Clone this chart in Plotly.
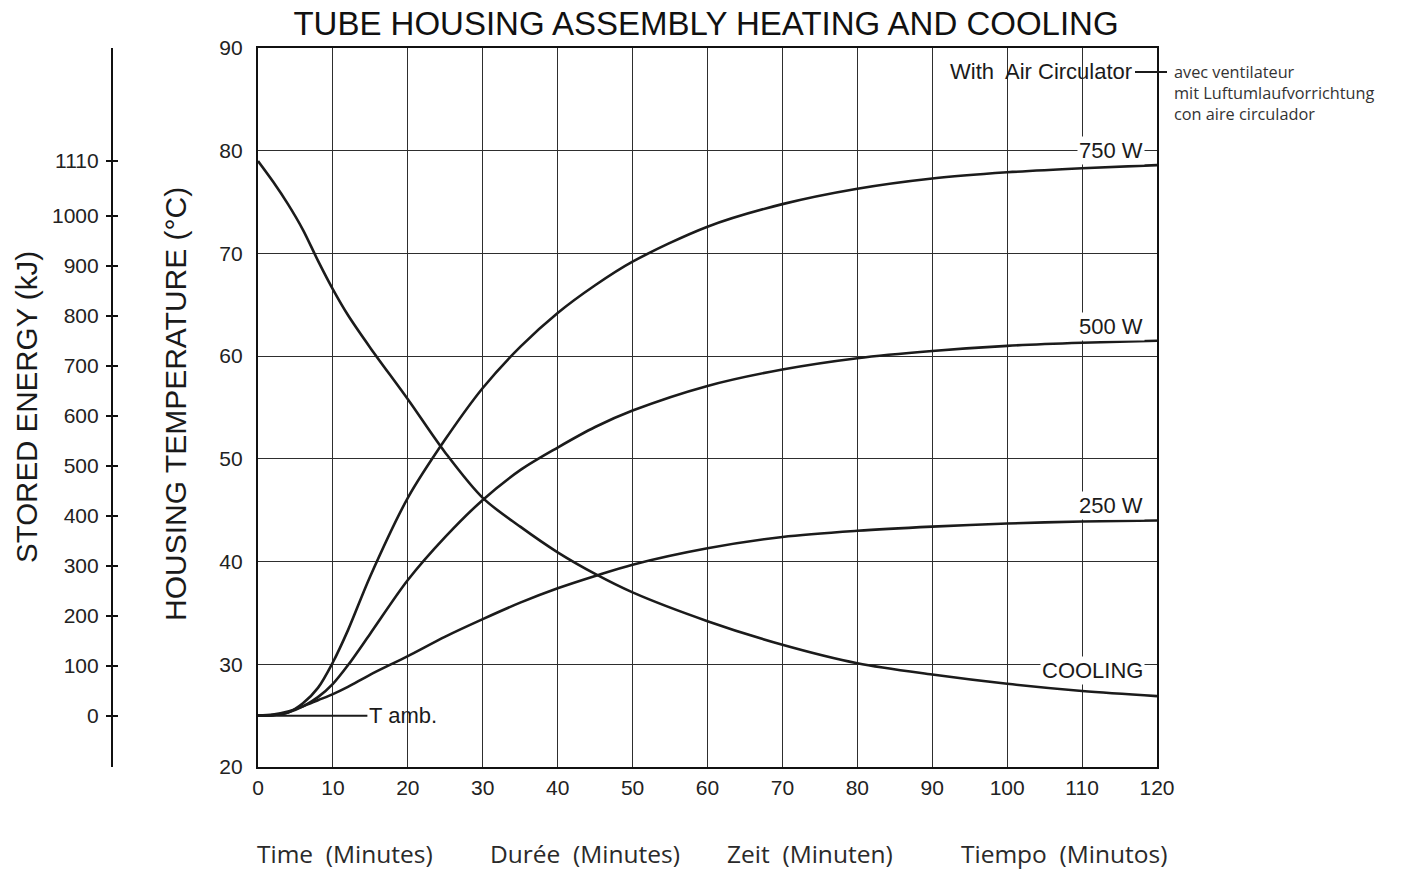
import plotly.graph_objects as go

# ---------------- data ----------------
TIME = [0, 2, 4, 6, 8, 10, 12, 15, 20, 25, 30, 35, 40, 45, 50, 60, 70, 80, 90, 100, 110, 120]
HEAT_750W = [25, 25.05, 25.3, 26.2, 27.7, 30.2, 33.3, 38.6, 46.2, 51.9, 56.9, 60.9, 64.2, 66.9, 69.2,
             72.6, 74.8, 76.3, 77.3, 77.9, 78.3, 78.6]
HEAT_500W = [25, 25.05, 25.3, 25.9, 26.8, 28.1, 29.9, 33.0, 38.2, 42.4, 46.0, 48.9, 51.1, 53.1, 54.7,
             57.1, 58.7, 59.8, 60.5, 61.0, 61.3, 61.5]
HEAT_250W = [25, 25.1, 25.4, 25.9, 26.5, 27.1, 27.8, 29.0, 30.8, 32.7, 34.4, 36.0, 37.4, 38.6, 39.7,
             41.3, 42.4, 43.0, 43.4, 43.7, 43.9, 44.0]
COOLING = [79.0, 77.0, 74.8, 72.3, 69.3, 66.5, 64.0, 60.8, 55.8, 50.6, 46.2, 43.4, 40.9, 38.8, 37.0,
           34.2, 31.9, 30.1, 29.0, 28.1, 27.4, 26.9]
T_AMB_TIME = [0, 14.6]
T_AMB = [25, 25]

ENERGY_TICKS = [0, 100, 200, 300, 400, 500, 600, 700, 800, 900, 1000, 1110]
ENERGY_REF_TEMP = [25, 79]        # temperatures matching 0 kJ and 1110 kJ
ENERGY_REF_KJ = [0, 1110]

TEMP_RANGE = [20, 90]
TIME_RANGE = [0, 120]

CURVE_LABELS = ["750 W", "500 W", "250 W", "COOLING"]
CURVE_LABEL_T = [80.0, 62.9, 45.5, 29.4]

TITLE = "TUBE HOUSING ASSEMBLY HEATING AND COOLING"
AIR_LABEL = "With  Air Circulator"
AIR_TRANSLATIONS = ["avec ventilateur", "mit Luftumlaufvorrichtung", "con aire circulador"]
BOTTOM_LABELS = ["Time  (Minutes)", "Durée  (Minutes)", "Zeit  (Minuten)", "Tiempo  (Minutos)"]

# ---------------- geometry (page pixels; the page body adds an 8px offset) ----------------
OFF = 8
W, H = 1401 - OFF, 869 - OFF
PLOT_L, PLOT_R, PLOT_T, PLOT_B = 258, 1157, 48, 767      # page pixels
ML = 40 - OFF                                             # paper starts at page x = 40
MR = (W + OFF) - PLOT_R
MT = PLOT_T - OFF
MB = (H + OFF) - PLOT_B
PW = W - ML - MR
PH = H - MT - MB
PAPER_L = ML + OFF


def px_x(p):
    return (p - PAPER_L) / PW


def px_y(p):
    return (PLOT_B - p) / PH


slope = (ENERGY_REF_KJ[1] - ENERGY_REF_KJ[0]) / (ENERGY_REF_TEMP[1] - ENERGY_REF_TEMP[0])
E_RANGE = [ENERGY_REF_KJ[0] + (TEMP_RANGE[0] - ENERGY_REF_TEMP[0]) * slope,
           ENERGY_REF_KJ[0] + (TEMP_RANGE[1] - ENERGY_REF_TEMP[0]) * slope]

MAIN_FONT = "Liberation Sans, Arial, Helvetica, sans-serif"
ALT_FONT = "Open Sans, Lato, sans-serif"
INK = "#1b1b1b"

fig = go.Figure()

line_style = dict(color=INK, width=2.6, shape="spline", smoothing=0.9)
for ys in (HEAT_750W, HEAT_500W, HEAT_250W, COOLING):
    fig.add_trace(go.Scatter(x=TIME, y=ys, mode="lines", line=line_style,
                             showlegend=False, hoverinfo="skip"))
fig.add_trace(go.Scatter(x=T_AMB_TIME, y=T_AMB, mode="lines", line=dict(color=INK, width=2),
                         showlegend=False, hoverinfo="skip"))

# invisible anchors for the stored energy axes
for ax in ("y2", "y3"):
    fig.add_trace(go.Scatter(x=[TIME[0]], y=[ENERGY_TICKS[0]], yaxis=ax, mode="markers",
                             marker=dict(opacity=0), showlegend=False, hoverinfo="skip"))

tickfont = dict(family=MAIN_FONT, size=21, color="#222")

fig.update_layout(
    width=W, height=H,
    margin=dict(l=ML, r=MR, t=MT, b=MB, pad=0),
    paper_bgcolor="white", plot_bgcolor="white",
    title=dict(text=TITLE, x=px_x(706), xref="paper", xanchor="center",
               y=1 - (23 - OFF) / H, yref="container", yanchor="middle",
               font=dict(family=MAIN_FONT, size=33, color="#111")),
    xaxis=dict(domain=[px_x(PLOT_L), 1], range=TIME_RANGE, dtick=10, tick0=0,
               showgrid=True, gridcolor="#2e2e2e", gridwidth=1.2,
               showline=True, linecolor="#111", linewidth=2.2, mirror=True,
               zeroline=False, ticks="", tickfont=tickfont, ticklabelstandoff=1),
    yaxis=dict(range=TEMP_RANGE, dtick=10, tick0=20,
               showgrid=True, gridcolor="#2e2e2e", gridwidth=1.2,
               showline=True, linecolor="#111", linewidth=2.2, mirror=True,
               zeroline=False, ticks="", tickfont=tickfont, ticklabelstandoff=9),
    yaxis2=dict(overlaying="y", anchor="free", position=px_x(112), side="left",
                range=E_RANGE, tickmode="array", tickvals=ENERGY_TICKS,
                ticktext=[str(v) for v in ENERGY_TICKS],
                ticks="outside", ticklen=5, tickwidth=1.5, tickcolor="#111",
                showline=True, linecolor="#111", linewidth=2.2,
                showgrid=False, zeroline=False, tickfont=tickfont, ticklabelstandoff=3),
    yaxis3=dict(overlaying="y", anchor="free", position=px_x(112), side="left",
                range=E_RANGE, tickmode="array", tickvals=ENERGY_TICKS,
                ticks="inside", ticklen=5, tickwidth=1.5, tickcolor="#111",
                showticklabels=False, showline=False, showgrid=False, zeroline=False),
)

annotations = []
# curve labels
for txt, t in zip(CURVE_LABELS, CURVE_LABEL_T):
    annotations.append(dict(x=118.4, y=t, xref="x", yref="y", text=txt, showarrow=False,
                            xanchor="right", yanchor="middle", bgcolor="white", borderpad=1,
                            font=dict(family=MAIN_FONT, size=22, color=INK)))
annotations.append(dict(x=T_AMB_TIME[1], y=T_AMB[1], xref="x", yref="y", text="T amb.",
                        showarrow=False, xanchor="left", yanchor="middle",
                        font=dict(family=MAIN_FONT, size=22, color=INK)))
annotations.append(dict(x=116.9, y=87.7, xref="x", yref="y", text=AIR_LABEL,
                        showarrow=False, xanchor="right", yanchor="middle",
                        font=dict(family=MAIN_FONT, size=22, color=INK)))
annotations.append(dict(x=px_x(1172), y=px_y(59), xref="paper", yref="paper",
                        text="<br>".join(AIR_TRANSLATIONS),
                        showarrow=False, xanchor="left", yanchor="top", align="left",
                        font=dict(family=ALT_FONT, size=16.3, color="#333")))
# axis titles
annotations.append(dict(x=px_x(175), y=px_y(404), xref="paper", yref="paper",
                        text="HOUSING TEMPERATURE (°C)", textangle=-90, showarrow=False,
                        xanchor="center", yanchor="middle",
                        font=dict(family=MAIN_FONT, size=30, color="#1a1a1a")))
annotations.append(dict(x=px_x(26), y=px_y(407), xref="paper", yref="paper",
                        text="STORED ENERGY (kJ)", textangle=-90, showarrow=False,
                        xanchor="center", yanchor="middle",
                        font=dict(family=MAIN_FONT, size=29.5, color="#1a1a1a")))
for txt, cx in zip(BOTTOM_LABELS, [345, 585, 810, 1064]):
    annotations.append(dict(x=px_x(cx), y=px_y(854), xref="paper", yref="paper", text=txt,
                            showarrow=False, xanchor="center", yanchor="middle",
                            font=dict(family=ALT_FONT, size=24.5, color="#2a2a2a")))
fig.update_layout(annotations=annotations)

fig.add_shape(type="line", xref="paper", yref="paper",
              x0=px_x(1135), x1=px_x(1167), y0=px_y(72), y1=px_y(72),
              line=dict(color=INK, width=2))

fig.write_html("out.html")
